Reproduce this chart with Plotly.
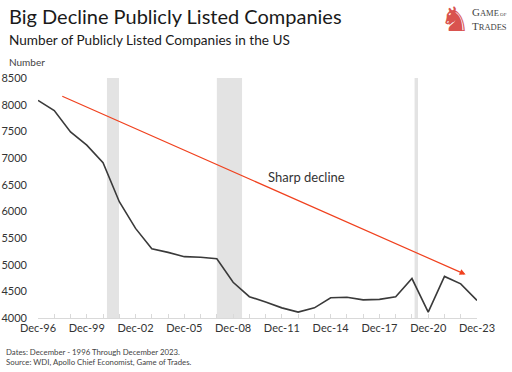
import plotly.graph_objects as go

years = list(range(1996, 2024))
companies = [8080, 7890, 7490, 7240, 6910, 6180, 5680, 5300, 5230, 5150, 5140, 5110,
             4670, 4400, 4300, 4190, 4110, 4190, 4380, 4390, 4340, 4350, 4400, 4740,
             4110, 4780, 4640, 4330]
tick_years = [1996, 1999, 2002, 2005, 2008, 2011, 2014, 2017, 2020, 2023]
tick_labels = ["Dec-96", "Dec-99", "Dec-02", "Dec-05", "Dec-08", "Dec-11",
               "Dec-14", "Dec-17", "Dec-20", "Dec-23"]
y_ticks = [4000, 4500, 5000, 5500, 6000, 6500, 7000, 7500, 8000, 8500]
recessions = [(2000.24, 2000.98), (2007.0, 2008.55), (2019.16, 2019.37)]
arrow_start = (1997.4, 8170)
arrow_end = (2022.3, 4815)

FONT = "Lato"
fig = go.Figure()

for x0, x1 in recessions:
    fig.add_shape(type="rect", xref="x", yref="y", x0=x0, x1=x1, y0=4000, y1=8500,
                  fillcolor="#e3e3e3", line_width=0, layer="below")

fig.add_trace(go.Scatter(x=years, y=companies, mode="lines",
                         line=dict(color="#3a3a3a", width=1.6), showlegend=False,
                         hoverinfo="skip"))

fig.add_annotation(x=arrow_end[0], y=arrow_end[1], ax=arrow_start[0], ay=arrow_start[1],
                   xref="x", yref="y", axref="x", ayref="y", text="", showarrow=True,
                   arrowhead=2, arrowsize=1, arrowwidth=1.2, arrowcolor="#f0411e")

fig.add_annotation(x=2012.5, y=6640, xref="x", yref="y", text="Sharp decline",
                   showarrow=False, font=dict(family=FONT, size=13, color="#333333"))

# paper coords: px = 38 + xp*439 ; py = 318 - yp*240
fig.add_annotation(x=-0.0706, y=1.258, xref="paper", yref="paper", xanchor="left", yanchor="middle",
                   text="Big Decline Publicly Listed Companies", showarrow=False,
                   font=dict(family=FONT, size=20, color="#1a1a1a"))
fig.add_annotation(x=-0.0706, y=1.158, xref="paper", yref="paper", xanchor="left", yanchor="middle",
                   text="Number of Publicly Listed Companies in the US", showarrow=False,
                   font=dict(family=FONT, size=13.6, color="#1a1a1a"))
fig.add_annotation(x=-0.0706, y=1.067, xref="paper", yref="paper", xanchor="left", yanchor="middle",
                   text="Number", showarrow=False,
                   font=dict(family=FONT, size=10, color="#444444"))
fig.add_annotation(x=-0.0775, y=-0.1625, xref="paper", yref="paper", xanchor="left", yanchor="middle",
                   text="Dates: December - 1996 Through December 2023.<br>Source: WDI, Apollo Chief Economist, Game of Trades.",
                   showarrow=False, align="left",
                   font=dict(family=FONT, size=7.8, color="#444444"))
fig.add_annotation(x=0.951, y=1.245, xref="paper", yref="paper", xanchor="center", yanchor="middle",
                   text="♞", showarrow=False,
                   font=dict(family="DejaVu Sans", size=34, color="#d9534f"))
fig.add_annotation(x=1.028, y=1.246, xref="paper", yref="paper", xanchor="center", yanchor="middle",
                   text="G<span style='font-size:8.5px'>AME</span><span style='font-size:5px'> OF</span><br>T<span style='font-size:8.5px'>RADES</span>",
                   showarrow=False, align="left",
                   font=dict(family="Liberation Serif", size=11, color="#444444"))

fig.update_layout(
    width=512, height=372, margin=dict(l=38, r=35, t=78, b=54, autoexpand=False),
    paper_bgcolor="white", plot_bgcolor="white",
    font=dict(family=FONT, size=11, color="#333333"),
    xaxis=dict(range=[1996, 2023], tickmode="array", tickvals=tick_years, ticktext=tick_labels,
               showgrid=False, zeroline=False, showline=True, linecolor="#d9d9d9", linewidth=1,
               ticks="inside", ticklen=4, tickcolor="#d9d9d9", automargin=False,
               minor=dict(dtick=1, ticks="inside", ticklen=4, tickcolor="#d9d9d9"),
               tickfont=dict(size=11, color="#333333")),
    yaxis=dict(range=[4000, 8500], tickvals=y_ticks, showgrid=False, zeroline=False,
               showline=False, ticks="", ticklabelstandoff=10, automargin=False,
               tickfont=dict(size=11, color="#333333")),
)

fig.write_html("out.html", config={"displayModeBar": False},
               post_script="document.body.style.margin='0';document.documentElement.style.overflow='hidden';")
